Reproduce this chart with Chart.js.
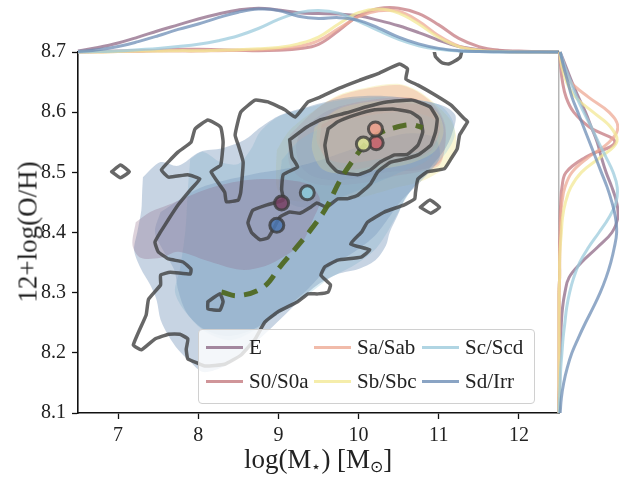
<!DOCTYPE html>
<html lang="en">
<head>
<meta charset="UTF-8">
<title>Mass-metallicity by morphological type</title>
<script src="https://cdn.jsdelivr.net/npm/chart.js"></script>
<style>
  body { margin: 0; background: #fff; }
  #wrap { position: relative; width: 619px; height: 481px; overflow: hidden;
          font-family: 'Liberation Serif', serif; color: #222; }
  canvas { position: absolute; }
  .xtitle { position: absolute; left: 0; width: 636px; top: 444px; text-align: center; font-size: 27px; }
  .ytitle { position: absolute; left: 28px; top: 232px; transform: translate(-50%, -50%) rotate(-90deg);
            font-size: 27px; white-space: nowrap; }
  sub { font-size: 60%; vertical-align: -0.25em; line-height: 0; }
  #legend { position: absolute; left: 198px; top: 329px; width: 335px; height: 73px;
            border: 1px solid #d0d0d0; border-radius: 4px; background: rgba(255,255,255,0.8); }
  .item { position: absolute; font-size: 21px; line-height: 24px; white-space: nowrap; }
  .item i { display: inline-block; width: 37px; height: 3.5px; vertical-align: middle; margin-right: 6px; margin-top: -3px; }
</style>
</head>
<body>
<div id="wrap">
  <canvas id="main" width="619" height="481" style="left:0;top:0"></canvas>
  <canvas id="top" width="619" height="56" style="left:0;top:0"></canvas>
  <canvas id="side" width="70" height="481" style="left:549px;top:0"></canvas>
  <div class="xtitle">log(M<sub>&#8902;</sub>) [M<sub>&#8857;</sub>]</div>
  <div class="ytitle">12+log(O/H)</div>
  <div id="legend"></div>
</div>
<script>
// ---- data ----
const types = ['E', 'S0/S0a', 'Sa/Sab', 'Sb/Sbc', 'Sc/Scd', 'Sd/Irr'];
const massTicks = [7, 8, 9, 10, 11, 12];
const ohTicks = [8.1, 8.2, 8.3, 8.4, 8.5, 8.6, 8.7];

// median of each type
const medianMass = [9.04, 10.22, 10.21, 10.06, 9.36, 8.98];
const medianOH = [8.449, 8.549, 8.572, 8.547, 8.466, 8.412];

// running median (dashed)
const trendMass = [8.29, 8.50, 8.81, 9.02, 9.23, 9.43, 9.60, 9.77, 9.93, 10.10, 10.26, 10.47, 10.67, 10.80];
const trendOH = [8.301, 8.295, 8.309, 8.343, 8.376, 8.409, 8.442, 8.487, 8.520, 8.549, 8.565, 8.575, 8.579, 8.574];

// whole-sample density contours [mass, O/H]
const contourOuter = [[7.53,8.401],[7.63,8.422],[7.75,8.446],[7.91,8.472],[8.02,8.489],[7.87,8.496],[7.63,8.492],[7.54,8.504],
  [7.75,8.534],[7.91,8.550],[7.96,8.572],[8.12,8.587],[8.28,8.575],[8.31,8.550],[8.28,8.512],[8.16,8.501],[8.33,8.467],
  [8.35,8.451],[8.50,8.454],[8.53,8.467],[8.56,8.517],[8.50,8.545],[8.46,8.562],[8.53,8.600],[8.71,8.620],[8.87,8.617],
  [9.08,8.604],[9.21,8.592],[9.37,8.617],[9.52,8.625],[9.76,8.640],[10.01,8.653],[10.26,8.665],[10.51,8.680],[10.61,8.672],
  [10.59,8.655],[10.74,8.645],[10.95,8.629],[11.15,8.612],[11.32,8.589],[11.36,8.584],[11.26,8.562],[11.23,8.539],
  [11.15,8.522],[11.07,8.506],[10.86,8.501],[10.74,8.489],[10.71,8.467],[10.70,8.456],[10.57,8.446],[10.32,8.434],
  [10.11,8.417],[10.04,8.401],[9.90,8.381],[10.14,8.371],[10.03,8.359],[9.74,8.354],[9.58,8.343],[9.53,8.329],[9.65,8.313],
  [9.62,8.301],[9.49,8.298],[9.37,8.298],[9.24,8.285],[8.99,8.268],[8.83,8.251],[8.71,8.223],[8.53,8.196],[8.33,8.181],
  [8.09,8.178],[7.99,8.183],[7.87,8.190],[7.85,8.206],[7.87,8.223],[7.77,8.231],[7.63,8.231],[7.46,8.223],[7.29,8.205],
  [7.19,8.213],[7.35,8.263],[7.38,8.289],[7.53,8.313],[7.53,8.329],[7.65,8.334],[7.90,8.331],[7.91,8.339],[7.81,8.351],
  [7.63,8.356],[7.50,8.368],[7.46,8.384]];
const contourMid = [[9.14,8.554],[9.35,8.575],[9.52,8.587],[9.85,8.599],[10.10,8.609],[10.35,8.617],[10.67,8.620],[10.89,8.609],
  [10.98,8.589],[10.96,8.567],[10.90,8.545],[10.74,8.529],[10.57,8.522],[10.40,8.517],[10.24,8.501],[10.15,8.481],
  [9.99,8.462],[9.86,8.456],[9.74,8.456],[9.60,8.442],[9.48,8.449],[9.39,8.441],[9.27,8.432],[9.14,8.434],[9.02,8.426],
  [8.93,8.404],[8.87,8.391],[8.77,8.388],[8.67,8.399],[8.62,8.416],[8.68,8.437],[8.86,8.446],[9.06,8.454],[9.04,8.471],
  [9.06,8.496],[9.24,8.509],[9.17,8.525]];
const contourInner = [[9.62,8.572],[9.58,8.545],[9.62,8.517],[9.74,8.501],[9.99,8.496],[10.15,8.504],[10.27,8.517],[10.45,8.529],
  [10.61,8.530],[10.74,8.545],[10.80,8.567],[10.77,8.589],[10.65,8.600],[10.45,8.605],[10.20,8.604],[9.95,8.595],[9.74,8.584]];
const islandLeft = [[6.92,8.501],[7.03,8.512],[7.14,8.501],[7.03,8.491]];
const islandRight = [[10.77,8.442],[10.89,8.454],[11.01,8.442],[10.90,8.432]];
const islandLow = [[8.12,8.285],[8.27,8.298],[8.31,8.285],[8.27,8.271],[8.12,8.273]];
const islandTop = [[10.93,8.71],[10.96,8.692],[11.04,8.682],[11.12,8.680],[11.20,8.685],[11.27,8.692],[11.30,8.71]];

// filled density levels of each type
const fillE = [[7.22,8.417],[7.40,8.434],[7.63,8.446],[8.00,8.467],[8.28,8.479],[8.58,8.487],[8.87,8.489],[9.14,8.487],
  [9.39,8.479],[9.52,8.454],[9.43,8.421],[9.30,8.384],[9.08,8.361],[8.83,8.344],[8.53,8.338],[8.09,8.354],[7.75,8.368],
  [7.53,8.358],[7.28,8.358],[7.18,8.379]];
const fillS0 = [[9.27,8.570],[9.64,8.604],[10.14,8.620],[10.64,8.624],[10.95,8.607],[11.07,8.579],[11.08,8.545],[11.01,8.516],
  [10.76,8.504],[10.39,8.501],[10.01,8.491],[9.70,8.487],[9.42,8.494],[9.27,8.512],[9.22,8.540]];
const fillS0Core = [[9.54,8.579],[9.83,8.600],[10.26,8.612],[10.70,8.614],[10.95,8.600],[11.01,8.570],[10.91,8.537],[10.64,8.520],
  [10.26,8.512],[9.89,8.504],[9.64,8.512],[9.52,8.545]];
const fillSa = [[9.14,8.562],[9.49,8.607],[9.76,8.627],[10.14,8.640],[10.51,8.645],[10.76,8.632],[10.98,8.607],[11.08,8.579],
  [11.08,8.545],[11.01,8.512],[10.76,8.501],[10.45,8.494],[10.14,8.484],[9.83,8.479],[9.52,8.479],[9.27,8.491],[9.14,8.512],[9.12,8.537]];
const fillSaCore = [[9.50,8.585],[9.80,8.610],[10.25,8.622],[10.70,8.622],[10.95,8.605],[11.02,8.575],[10.92,8.545],[10.62,8.530],
  [10.25,8.522],[9.88,8.515],[9.62,8.522],[9.48,8.550]];
const fillSb = [[8.98,8.537],[9.14,8.570],[9.49,8.607],[9.76,8.629],[10.14,8.642],[10.51,8.647],[10.76,8.634],[11.01,8.607],
  [11.16,8.584],[11.22,8.554],[11.16,8.520],[11.01,8.501],[10.76,8.484],[10.45,8.474],[10.14,8.462],[9.83,8.454],[9.45,8.451],
  [9.14,8.454],[8.99,8.471],[8.97,8.504]];
const fillSbCore = [[9.45,8.575],[9.75,8.605],[10.20,8.618],[10.68,8.618],[10.98,8.600],[11.06,8.568],[10.95,8.535],[10.65,8.515],
  [10.25,8.505],[9.85,8.497],[9.55,8.505],[9.42,8.538]];
const fillSc = [[7.90,8.522],[8.06,8.534],[8.28,8.517],[8.50,8.514],[8.66,8.539],[8.77,8.567],[8.99,8.592],[9.27,8.604],
  [9.76,8.620],[10.26,8.625],[10.76,8.620],[11.01,8.612],[11.16,8.590],[11.20,8.562],[11.10,8.534],[10.89,8.504],[10.66,8.471],
  [10.51,8.437],[10.36,8.401],[10.20,8.371],[9.95,8.346],[9.64,8.324],[9.33,8.293],[9.02,8.266],[8.71,8.238],[8.40,8.221],
  [8.09,8.235],[7.84,8.268],[7.71,8.301],[7.77,8.338],[7.84,8.404],[7.87,8.471]];
const fillScCore = [[9.04,8.520],[9.27,8.554],[9.64,8.579],[10.14,8.595],[10.64,8.600],[10.95,8.587],[11.01,8.554],[10.86,8.520],
  [10.54,8.501],[10.16,8.479],[9.83,8.461],[9.52,8.444],[9.21,8.444],[9.02,8.467]];
const fillSd = [[7.31,8.492],[7.53,8.517],[7.75,8.511],[8.02,8.534],[8.30,8.540],[8.58,8.554],[8.77,8.574],[9.02,8.595],
  [9.39,8.610],[9.83,8.624],[10.32,8.627],[10.76,8.620],[11.07,8.610],[11.21,8.594],[11.16,8.562],[11.07,8.537],[10.89,8.507],
  [10.71,8.479],[10.57,8.454],[10.49,8.429],[10.39,8.401],[10.34,8.378],[10.21,8.354],[9.99,8.339],[9.74,8.331],[9.49,8.313],
  [9.27,8.288],[9.04,8.258],[8.82,8.230],[8.60,8.205],[8.33,8.178],[8.06,8.168],[7.90,8.185],[7.75,8.205],[7.63,8.228],
  [7.53,8.255],[7.48,8.288],[7.40,8.313],[7.28,8.341],[7.20,8.371],[7.24,8.401],[7.29,8.437],[7.30,8.467]];
const fillSdCore = [[7.53,8.434],[8.02,8.474],[8.65,8.496],[9.14,8.507],[9.52,8.520],[9.89,8.537],[10.26,8.554],[10.64,8.565],
  [10.95,8.557],[11.01,8.524],[10.79,8.487],[10.54,8.454],[10.39,8.427],[10.20,8.394],[9.95,8.368],[9.64,8.343],[9.33,8.301],
  [9.02,8.268],[8.67,8.238],[8.35,8.228],[8.05,8.241],[7.85,8.268],[7.75,8.304],[7.70,8.338],[7.56,8.371],[7.46,8.401]];

// marginal densities (peak ~1)
const massGrid = [6.5,6.75,7,7.25,7.5,7.75,8,8.25,8.5,8.75,9,9.25,9.5,9.75,10,10.25,10.5,10.75,11,11.25,11.5,11.75,12,12.25,12.5];
const massDensE  = [0.02,0.1,0.2,0.33,0.47,0.6,0.73,0.84,0.93,0.97,0.93,0.87,0.85,0.84,0.8,0.7,0.58,0.43,0.26,0.12,0.05,0.02,0.01,0.005,0];
const massDensS0 = [0,0.01,0.02,0.03,0.04,0.06,0.06,0.05,0.04,0.03,0.04,0.07,0.17,0.47,0.8,0.96,0.97,0.85,0.6,0.3,0.12,0.04,0.02,0.01,0];
const massDensSa = [0,0,0.01,0.01,0.02,0.02,0.02,0.03,0.04,0.05,0.07,0.12,0.25,0.52,0.78,0.91,0.9,0.68,0.36,0.13,0.04,0.01,0,0,0];
const massDensSb = [0,0,0.01,0.02,0.02,0.03,0.03,0.04,0.05,0.07,0.1,0.18,0.33,0.62,0.87,0.95,0.86,0.62,0.32,0.12,0.04,0.01,0,0,0];
const massDensSc = [0,0.01,0.02,0.05,0.08,0.12,0.17,0.25,0.36,0.52,0.72,0.87,0.92,0.86,0.68,0.47,0.28,0.14,0.06,0.02,0.01,0,0,0,0];
const massDensSd = [0.01,0.05,0.12,0.23,0.36,0.5,0.62,0.76,0.88,0.95,0.92,0.79,0.74,0.76,0.7,0.53,0.33,0.18,0.08,0.03,0.01,0.005,0,0,0];

const ohGrid = [8.7,8.675,8.65,8.625,8.6,8.575,8.55,8.525,8.5,8.475,8.45,8.425,8.4,8.375,8.35,8.325,8.3,8.275,8.25,8.225,8.2,8.175,8.15,8.125,8.1];
const ohDensE  = [0.02,0.12,0.22,0.33,0.45,0.55,0.65,0.72,0.8,0.9,0.98,1.0,0.9,0.65,0.38,0.17,0.1,0.06,0.04,0.03,0.02,0.01,0.01,0,0];
const ohDensS0 = [0.01,0.03,0.06,0.12,0.25,0.52,0.95,0.45,0.12,0.05,0.03,0.02,0.02,0.01,0.01,0.01,0,0,0,0,0,0,0,0,0];
const ohDensSa = [0.01,0.07,0.2,0.5,0.85,1.0,0.85,0.5,0.22,0.1,0.05,0.03,0.02,0.015,0.01,0.01,0,0,0,0,0,0,0,0,0];
const ohDensSb = [0.01,0.05,0.13,0.28,0.58,0.88,0.98,0.7,0.38,0.2,0.11,0.06,0.04,0.02,0.01,0.01,0,0,0,0,0,0,0,0,0];
const ohDensSc = [0.02,0.1,0.2,0.3,0.42,0.55,0.67,0.8,0.92,0.99,0.97,0.85,0.68,0.5,0.35,0.25,0.18,0.13,0.1,0.07,0.05,0.03,0.02,0.01,0];
const ohDensSd = [0.02,0.08,0.15,0.22,0.32,0.42,0.52,0.62,0.72,0.82,0.9,0.96,0.98,0.94,0.88,0.8,0.7,0.58,0.45,0.33,0.22,0.14,0.08,0.04,0.02];

// ---- styling ----
const typeRGB = ['143,106,135', '196,122,128', '238,170,149', '243,232,150', '156,203,220', '109,141,181'];
const medianFill = ['rgba(120,65,100,0.85)', 'rgba(200,95,105,0.85)', 'rgba(235,160,140,0.9)',
                    'rgba(220,225,150,0.9)', 'rgba(140,200,215,0.9)', 'rgba(75,120,180,0.85)'];
const rgba = (i, a) => 'rgba(' + typeRGB[i] + ',' + a + ')';
Chart.defaults.font.family = "'Liberation Serif', serif";
Chart.defaults.color = '#222';

function closed(pairs) {
  const pts = pairs.map(p => ({x: p[0], y: p[1]}));
  pts.push({x: pairs[0][0], y: pairs[0][1]});
  return pts;
}
function open(pairs) { return pairs.map(p => ({x: p[0], y: p[1]})); }

function contour(pts) {
  return {data: pts, borderColor: 'rgba(60,60,60,0.78)', borderWidth: 3.5, pointRadius: 0,
          fill: false, tension: 0.12, borderJoinStyle: 'round', borderCapStyle: 'round'};
}
function blob(pairs, i, a) {
  return {data: closed(pairs), borderWidth: 0, borderColor: 'transparent', backgroundColor: rgba(i, a),
          pointRadius: 0, fill: 'shape', tension: 0.3};
}

// first dataset is drawn on top
const mainSets = [
  {data: medianMass.map((m, i) => ({x: m, y: medianOH[i]})), showLine: false, pointRadius: 7,
   pointBackgroundColor: medianFill, pointBorderColor: 'rgba(60,60,60,0.8)', pointBorderWidth: 3},
  {data: trendMass.map((m, i) => ({x: m, y: trendOH[i]})), borderColor: 'rgba(80,105,35,0.95)',
   borderWidth: 5, borderDash: [14, 9], pointRadius: 0, fill: false, tension: 0.4},
  contour(closed(contourOuter)),
  contour(closed(contourMid)),
  contour(closed(contourInner)),
  contour(closed(islandLeft)),
  contour(closed(islandRight)),
  contour(closed(islandLow)),
  contour(open(islandTop)),
  blob(fillE, 0, 0.3),
  blob(fillS0Core, 1, 0.12),
  blob(fillSaCore, 2, 0.15),
  blob(fillSbCore, 3, 0.22),
  blob(fillSdCore, 5, 0.3),
  blob(fillSd, 5, 0.38),
  blob(fillScCore, 4, 0.35),
  blob(fillSc, 4, 0.35),
  blob(fillS0, 1, 0.3),
  blob(fillSa, 2, 0.4),
  blob(fillSb, 3, 0.4)
];

new Chart(document.getElementById('main'), {
  type: 'line',
  data: {datasets: mainSets},
  options: {
    responsive: false, animation: false,
    layout: {padding: {top: 52, right: 60, left: 0, bottom: 0}},
    plugins: {legend: {display: false}, tooltip: {enabled: false}},
    scales: {
      x: {
        type: 'linear', min: 6.5, max: 12.5,
        afterBuildTicks: s => { s.ticks = massTicks.map(v => ({value: v})); },
        afterFit: s => { s.height = 68; },
        ticks: {font: {size: 20}, color: '#222', padding: 5, maxRotation: 0},
        grid: {drawOnChartArea: false, tickLength: 6, tickColor: '#111', tickWidth: 1.3},
        border: {color: '#111', width: 1.6}
      },
      y: {
        type: 'linear', min: 8.1, max: 8.7,
        afterBuildTicks: s => { s.ticks = ohTicks.map(v => ({value: v})); },
        afterFit: s => { s.width = 78; },
        ticks: {font: {size: 20}, color: '#222', padding: 6, callback: v => v.toFixed(1)},
        grid: {drawOnChartArea: false, tickLength: 6, tickColor: '#111', tickWidth: 1.3},
        border: {color: '#111', width: 1.6}
      }
    }
  }
});

// top marginal: stellar mass
const massDens = [massDensE, massDensS0, massDensSa, massDensSb, massDensSc, massDensSd];
new Chart(document.getElementById('top'), {
  type: 'line',
  data: {datasets: massDens.map((d, i) => ({
    label: types[i], data: d.map((v, k) => ({x: massGrid[k], y: v})),
    borderColor: rgba(i, 0.75), borderWidth: 3, pointRadius: 0, fill: false, tension: 0.4, clip: false
  })).reverse()},
  options: {
    responsive: false, animation: false,
    layout: {padding: {top: 0, right: 60, left: 78, bottom: 4}},
    plugins: {legend: {display: false}, tooltip: {enabled: false}},
    scales: {
      x: {type: 'linear', min: 6.5, max: 12.5, display: false},
      y: {min: 0, max: 1.15, display: false}
    }
  }
});

// right marginal: metallicity
const ohDens = [ohDensE, ohDensS0, ohDensSa, ohDensSb, ohDensSc, ohDensSd];
new Chart(document.getElementById('side'), {
  type: 'line',
  data: {datasets: ohDens.map((d, i) => ({
    label: types[i], data: d.map((v, k) => ({x: v, y: ohGrid[k]})),
    borderColor: rgba(i, 0.75), borderWidth: 3, pointRadius: 0, fill: false, tension: 0.4, clip: false
  })).reverse()},
  options: {
    responsive: false, animation: false,
    layout: {padding: {top: 52, right: 0, left: 10, bottom: 68}},
    plugins: {legend: {display: false}, tooltip: {enabled: false}},
    scales: {
      x: {type: 'linear', min: 0, max: 1.02, display: false},
      y: {type: 'linear', min: 8.1, max: 8.7,
          afterFit: s => { s.width = 0; },
          ticks: {display: false}, grid: {display: false},
          border: {display: true, color: 'rgba(120,120,120,0.55)', width: 1.5}}
    }
  }
});

// legend (three columns, filled column-wise)
const legendPos = [[7, 5], [7, 39], [115, 5], [115, 39], [223, 5], [223, 39]];
const legend = document.getElementById('legend');
types.forEach((t, i) => {
  const el = document.createElement('div');
  el.className = 'item';
  el.style.left = legendPos[i][0] + 'px';
  el.style.top = legendPos[i][1] + 'px';
  el.innerHTML = '<i style="background:' + rgba(i, 0.8) + '"></i>' + t;
  legend.appendChild(el);
});
</script>
</body>
</html>
